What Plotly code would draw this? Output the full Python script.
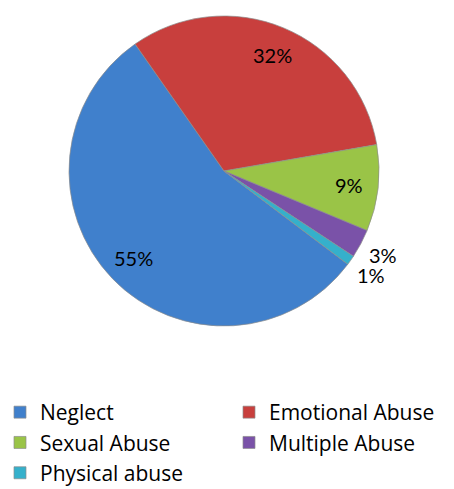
import math
import plotly.graph_objects as go

# Share of cases by type of abuse (percent)
categories = ["Neglect", "Emotional Abuse", "Sexual Abuse", "Multiple Abuse", "Physical abuse"]
values = [55, 32, 9, 3, 1]
colors = ["#4080CC", "#C83F3D", "#9AC447", "#7A52A8", "#35B0CB"]

W, H = 454, 489
CX, CY, R = 224, 171, 155          # pie centre and radius in pixels
START = 127                        # angle (deg, clockwise from 12 o'clock) of first slice

fig = go.Figure(go.Pie(
    labels=categories,
    values=values,
    sort=False,
    direction="clockwise",
    rotation=START,
    marker=dict(colors=colors, line=dict(color="#8c8c8c", width=0.7)),
    textinfo="none",
    hoverinfo="label+percent",
    domain=dict(x=[(CX - R) / W, (CX + R) / W],
                y=[(H - CY - R) / H, (H - CY + R) / H]),
))

# Percentage labels placed at each slice's mid-angle
total = sum(values)
cum = 0
annotations = []
for v in values:
    mid = START + (cum + v / 2) / total * 360
    cum += v
    rho = R * (0.81 if v >= 5 else 1.16)
    a = math.radians(mid)
    px = CX + rho * math.sin(a)
    py = CY - rho * math.cos(a)
    annotations.append(dict(
        x=px / W, y=1 - py / H, xref="paper", yref="paper",
        text=f"{round(v / total * 100)}%", showarrow=False,
        font=dict(family="Lato", size=20, color="#000000"),
        xanchor="center", yanchor="middle",
    ))

fig.update_layout(
    width=W, height=H,
    margin=dict(l=0, r=0, t=0, b=0, autoexpand=False),
    paper_bgcolor="white",
    plot_bgcolor="white",
    annotations=annotations,
    showlegend=True,
    legend=dict(
        orientation="h",
        x=0.0, xanchor="left",
        y=1 - 392 / H, yanchor="top",
        entrywidth=184, entrywidthmode="pixels",
        font=dict(family="Open Sans", size=21, color="#000000"),
        traceorder="normal",
    ),
)

fig.write_html("out.html")
